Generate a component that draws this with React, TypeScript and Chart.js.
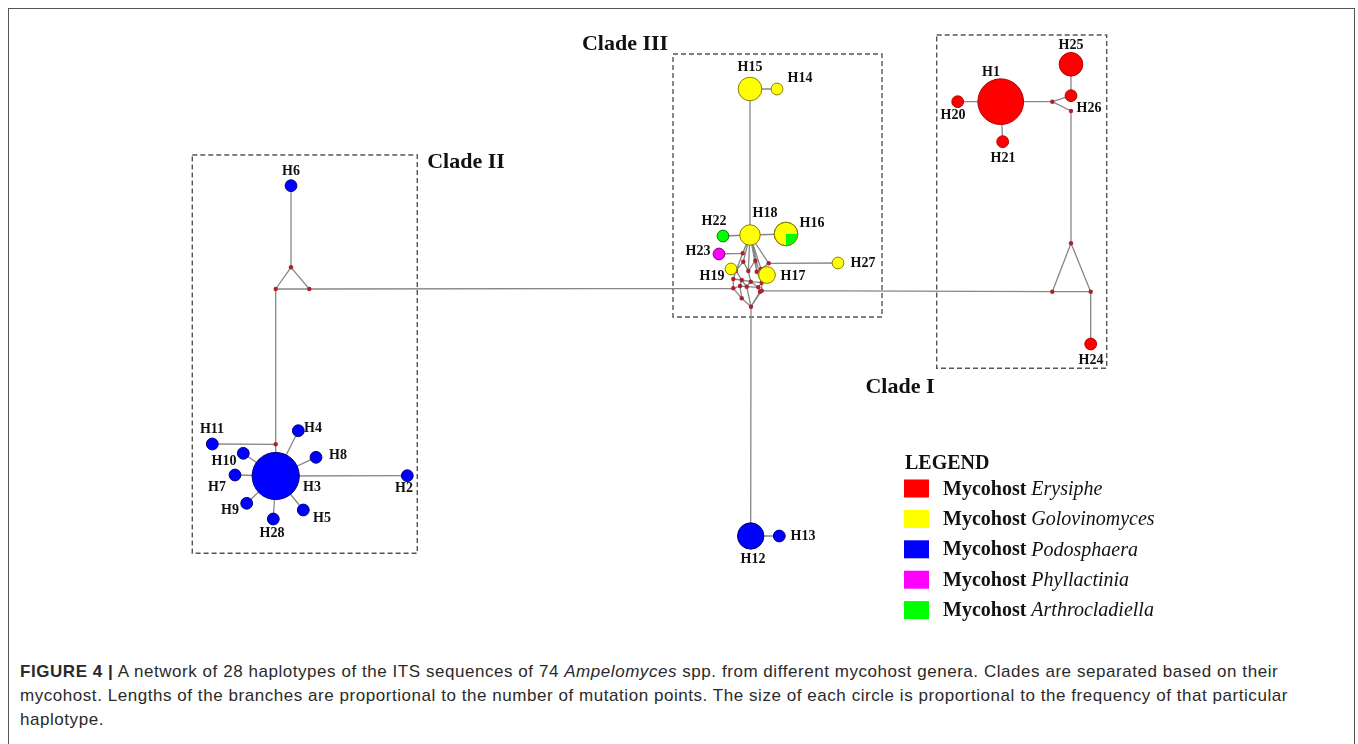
import React, { useEffect, useRef } from "react";
import { Chart, registerables } from "chart.js";

Chart.register(...registerables);

// ---------------- DATA ----------------
// Haplotypes (network layout coordinates)
const hapNames = ["H1","H2","H3","H4","H5","H6","H7","H8","H9","H10","H11","H12","H13","H14","H15","H16","H17","H18","H19","H20","H21","H22","H23","H24","H25","H26","H27","H28"];
const hapX = [1000.7, 407.3, 275.7, 298.3, 303.3, 291, 235, 316, 246.7, 243.3, 212.3, 750.7, 779.3, 777, 750, 786, 767, 750, 731, 957.7, 1002.7, 723, 719, 1090.7, 1071, 1071, 838, 273.3];
const hapY = [101.7, 475.7, 476, 430.7, 510, 185.7, 475, 457.3, 503.3, 453.3, 444, 536, 536, 89, 89, 234, 275, 235, 269, 101.7, 141.7, 236, 254, 344, 64.3, 95.7, 263, 519];
const hapFreq = [15, 1, 16, 1, 1, 1, 1, 1, 1, 1, 1, 5, 1, 1, 4, 4, 2, 3, 1, 1, 1, 1, 1, 1, 4, 1, 1, 1];
const hapHost = ["Erysiphe","Podosphaera","Podosphaera","Podosphaera","Podosphaera","Podosphaera","Podosphaera","Podosphaera","Podosphaera","Podosphaera","Podosphaera","Podosphaera","Podosphaera","Golovinomyces","Golovinomyces","Golovinomyces","Golovinomyces","Golovinomyces","Golovinomyces","Erysiphe","Erysiphe","Arthrocladiella","Phyllactinia","Erysiphe","Erysiphe","Erysiphe","Golovinomyces","Podosphaera"];
// second mycohost share inside a haplotype (H16)
const hapSecondHost = ["","","","","","","","","","","","","","","","Arthrocladiella","","","","","","","","","","","",""];
const hapSecondCount = [0,0,0,0,0,0,0,0,0,0,0,0,0,0,0,1,0,0,0,0,0,0,0,0,0,0,0,0];
const hapLabelX = [991, 404, 312, 313, 322, 291, 217, 338, 230, 224, 212, 753, 803, 800, 750, 812, 793, 765, 712, 953, 1003, 714, 698, 1091, 1071, 1089, 863, 272];
const hapLabelY = [72, 488, 487, 428, 518, 171, 487, 455, 510, 461, 429, 559, 536, 78, 67, 223, 276, 213, 276, 115, 158, 221, 251, 360, 45, 108, 263, 533];

// Median vectors (hypothetical haplotypes)
const medNames = ["IIL","IIR","IIT","IIB","IL","IR","IT","IN","IM","c1","c2","c3","c4","c5","c6","c7","c8","c9","c10","c11","c12","c13","c14","c15","c16","c17","c18","c19","c20"];
const medX = [275.7, 309.3, 291, 275.7, 1052.3, 1090.7, 1071, 1071, 1052.3, 742.7, 755.3, 743.3, 768.7, 736, 748.3, 756.7, 761, 733.3, 741.7, 750.7, 761.7, 733.3, 740, 746.7, 758.3, 760, 761.7, 741.7, 751];
const medY = [289, 289, 267.3, 444.3, 291.7, 291.7, 243.3, 111, 101.7, 253.3, 260.7, 261.7, 263.3, 270.7, 271, 271.7, 269, 279, 280, 281.7, 282.7, 288.3, 286, 286.7, 287.3, 291.7, 290.7, 298.3, 306.7];

// Network edges
const edges: [string, string][] = [
  ["H6","IIT"],["IIT","IIL"],["IIT","IIR"],["IIL","IIR"],["IIL","IIB"],["IIB","H11"],["IIB","H3"],
  ["H3","H2"],["H3","H4"],["H3","H8"],["H3","H5"],["H3","H28"],["H3","H9"],["H3","H7"],["H3","H10"],
  ["IIR","c13"],
  ["H15","H14"],["H15","H18"],["H18","H22"],["H18","H16"],
  ["H18","c1"],["H18","c2"],["H18","c3"],["H18","c4"],["H18","c6"],["H18","c7"],["H18","c8"],["H18","c5"],["H18","c12"],
  ["H23","c1"],["c4","H27"],["H19","c5"],["H17","c8"],["H17","c12"],
  ["c1","c5"],["c3","c5"],["c3","c6"],["c2","c6"],["c2","c7"],["c4","c8"],["c8","c12"],["c7","c12"],["c6","c11"],
  ["c5","c9"],["c5","c10"],["c9","c13"],["c10","c14"],["c11","c15"],["c12","c16"],["c9","c10"],["c10","c11"],["c11","c12"],
  ["c13","c14"],["c14","c15"],["c15","c16"],["c16","c17"],["c17","c18"],["c12","c18"],["c13","c19"],["c14","c19"],
  ["c15","c20"],["c17","c20"],["c18","c20"],["c19","c20"],["c10","c15"],["c11","c16"],
  ["c20","H12"],["H12","H13"],["c18","IL"],
  ["IL","IR"],["IT","IL"],["IT","IR"],["IR","H24"],["IT","IN"],["IN","IM"],["IM","H26"],["IM","H1"],["H26","H25"],["H1","H20"],["H1","H21"],
];

// Clades
const cladeNames = ["Clade I", "Clade II", "Clade III"];
const cladeLabelX = [900, 466, 625];
const cladeLabelY = [387, 162, 44];
const cladeBoxX1 = [936.7, 192.3, 673];
const cladeBoxY1 = [35, 155, 54];
const cladeBoxX2 = [1106.7, 417.3, 882];
const cladeBoxY2 = [368.3, 553.3, 317];

// Legend
const legendHosts = ["Erysiphe", "Golovinomyces", "Podosphaera", "Phyllactinia", "Arthrocladiella"];

const captionLines = [
  ["FIGURE 4 |", " A network of 28 haplotypes of the ITS sequences of 74 ", "Ampelomyces", " spp. from different mycohost genera. Clades are separated based on their"],
  ["", "mycohost. Lengths of the branches are proportional to the number of mutation points. The size of each circle is proportional to the frequency of that particular", "", ""],
  ["", "haplotype.", "", ""],
];

// ---------------- STYLE ----------------
const hostFill: Record<string, string> = {
  Erysiphe: "#ff0000",
  Golovinomyces: "#ffff00",
  Podosphaera: "#0000ff",
  Phyllactinia: "#ff00ff",
  Arthrocladiella: "#00ff00",
};
const hostStroke: Record<string, string> = {
  Erysiphe: "#b00000",
  Golovinomyces: "#8a8000",
  Podosphaera: "#00007a",
  Phyllactinia: "#8a008a",
  Arthrocladiella: "#008000",
};
const RADIUS_UNIT = 5.9;
const radiusOf = (f: number) => RADIUS_UNIT * Math.sqrt(f);
const SERIF = "'Liberation Serif', 'Times New Roman', serif";

export default function App() {
  const ref = useRef<HTMLCanvasElement>(null);

  useEffect(() => {
    document.body.style.margin = "0";
    document.body.style.overflow = "hidden";
    const canvas = ref.current!;

    const pos: Record<string, { x: number; y: number }> = {};
    hapNames.forEach((n, i) => (pos[n] = { x: hapX[i], y: hapY[i] }));
    medNames.forEach((n, i) => (pos[n] = { x: medX[i], y: medY[i] }));

    const edgeData: any[] = [];
    edges.forEach(([a, b]) => {
      edgeData.push({ x: pos[a].x, y: pos[a].y }, { x: pos[b].x, y: pos[b].y }, { x: pos[b].x, y: null });
    });

    const boxData: any[] = [];
    cladeNames.forEach((_, i) => {
      const x1 = cladeBoxX1[i], x2 = cladeBoxX2[i], y1 = cladeBoxY1[i], y2 = cladeBoxY2[i];
      boxData.push({ x: x1, y: y1 }, { x: x2, y: y1 }, { x: x2, y: y2 }, { x: x1, y: y2 }, { x: x1, y: y1 }, { x: x1, y: null });
    });

    const overlay = {
      id: "overlay",
      afterDatasetsDraw(chart: any) {
        const { ctx } = chart;
        const sx = chart.scales.x;
        const sy = chart.scales.y;
        const meta = chart.getDatasetMeta(3);
        // pie wedges for mixed haplotypes
        hapSecondHost.forEach((h, i) => {
          if (!h) return;
          const el = meta.data[i];
          const r = radiusOf(hapFreq[i]);
          const ang = (2 * Math.PI * hapSecondCount[i]) / hapFreq[i];
          ctx.save();
          ctx.beginPath();
          ctx.moveTo(el.x, el.y);
          ctx.arc(el.x, el.y, r - 0.5, 0, ang);
          ctx.closePath();
          ctx.fillStyle = hostFill[h];
          ctx.fill();
          ctx.beginPath();
          ctx.arc(el.x, el.y, r, 0, 2 * Math.PI);
          ctx.lineWidth = 1;
          ctx.strokeStyle = hostStroke[hapHost[i]];
          ctx.stroke();
          ctx.restore();
        });

        ctx.save();
        ctx.fillStyle = "#111";
        ctx.textAlign = "center";
        ctx.textBaseline = "middle";
        // haplotype labels
        ctx.font = `bold 14px ${SERIF}`;
        hapNames.forEach((n, i) => {
          ctx.fillText(n, sx.getPixelForValue(hapLabelX[i]), sy.getPixelForValue(hapLabelY[i]));
        });
        // clade labels
        ctx.font = `bold 22px ${SERIF}`;
        cladeNames.forEach((n, i) => {
          ctx.fillText(n, sx.getPixelForValue(cladeLabelX[i]), sy.getPixelForValue(cladeLabelY[i]));
        });
        // legend
        ctx.textAlign = "left";
        ctx.font = `bold 20px ${SERIF}`;
        ctx.fillText("LEGEND", sx.getPixelForValue(905), sy.getPixelForValue(464));
        legendHosts.forEach((h, i) => {
          const cy = sy.getPixelForValue(488.5 + i * 30.4);
          const x0 = sx.getPixelForValue(904);
          ctx.fillStyle = hostFill[h];
          ctx.fillRect(x0, cy - 9, 25, 18);
          ctx.fillStyle = "#111";
          const tx = sx.getPixelForValue(943);
          ctx.font = `bold 20px ${SERIF}`;
          ctx.fillText("Mycohost ", tx, cy + 1);
          const w = ctx.measureText("Mycohost ").width;
          ctx.font = `italic 20px ${SERIF}`;
          ctx.fillText(h, tx + w, cy + 1);
        });
        ctx.restore();
      },
    };

    const chart = new Chart(canvas, {
      type: "scatter",
      data: {
        datasets: [
          {
            label: "edges",
            data: edgeData,
            showLine: true,
            spanGaps: false,
            borderColor: "#878787",
            borderWidth: 1.3,
            pointRadius: 0,
            order: 4,
          } as any,
          {
            label: "clades",
            data: boxData,
            showLine: true,
            spanGaps: false,
            borderColor: "#555",
            borderWidth: 1.4,
            borderDash: [5, 3],
            pointRadius: 0,
            order: 5,
          } as any,
          {
            label: "median vectors",
            data: medNames.map((_, i) => ({ x: medX[i], y: medY[i] })),
            pointRadius: 2.2,
            pointBackgroundColor: "#b01f2e",
            pointBorderWidth: 0,
            order: 2,
          } as any,
          {
            label: "haplotypes",
            data: hapNames.map((_, i) => ({ x: hapX[i], y: hapY[i] })),
            pointRadius: hapFreq.map(radiusOf),
            pointBackgroundColor: hapHost.map((h) => hostFill[h]),
            pointBorderColor: hapHost.map((h) => hostStroke[h]),
            pointBorderWidth: 1,
            order: 1,
          } as any,
        ],
      },
      options: {
        animation: false,
        responsive: true,
        maintainAspectRatio: false,
        events: [],
        layout: { padding: 0, autoPadding: false },
        scales: {
          x: { type: "linear", min: 0, max: 1358, display: false },
          y: { type: "linear", min: 0, max: 640, reverse: true, display: false },
        },
        plugins: { legend: { display: false }, tooltip: { enabled: false } },
      } as any,
      plugins: [overlay],
    });
    return () => chart.destroy();
  }, []);

  const capStyle: React.CSSProperties = {
    position: "absolute",
    left: 20,
    whiteSpace: "nowrap",
    fontFamily: "'Liberation Sans', Arial, sans-serif",
    fontSize: 17,
    letterSpacing: "0.55px",
    lineHeight: "24px",
    color: "#2a2a2a",
  };

  return (
    <div style={{ position: "relative", width: 1358, height: 744, overflow: "hidden", background: "#fff" }}>
      <div
        style={{
          position: "absolute",
          left: 8,
          top: 8,
          width: 1347,
          height: 800,
          border: "1px solid #555",
          boxSizing: "border-box",
        }}
      />
      <div style={{ position: "absolute", left: 0, top: 0, width: 1358, height: 640 }}>
        <canvas ref={ref} />
      </div>
      {captionLines.map((parts, i) => (
        <div key={i} style={{ ...capStyle, top: 660 + i * 24 }}>
          {parts[0] ? <b>{parts[0]}</b> : null}
          {parts[1]}
          {parts[2] ? <i>{parts[2]}</i> : null}
          {parts[3]}
        </div>
      ))}
    </div>
  );
}
